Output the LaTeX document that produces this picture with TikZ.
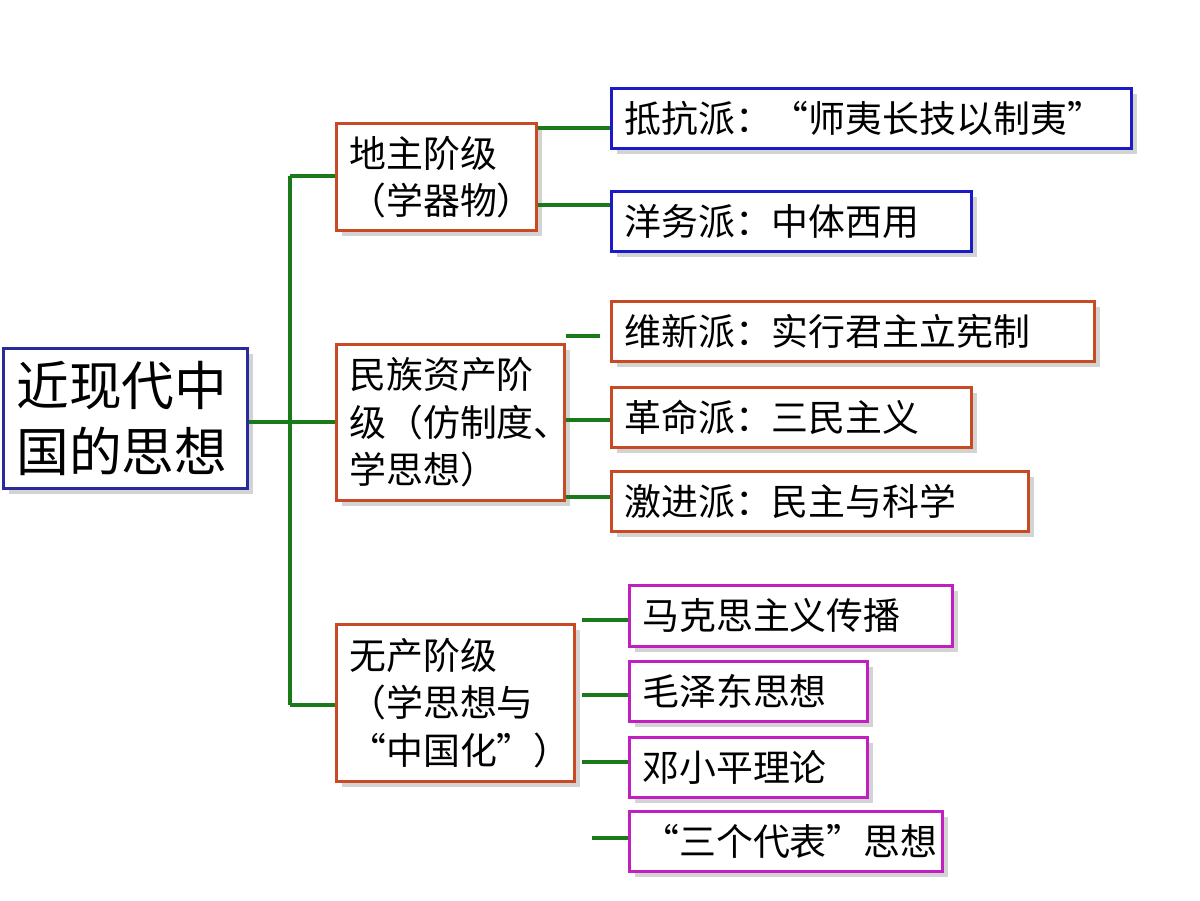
\documentclass[tikz,border=0pt]{standalone}
\usepackage{fontspec}
\setmainfont{Noto Sans CJK SC}
\usetikzlibrary{shadows}
\definecolor{bblue}{HTML}{1A1AC8}
\definecolor{rblue}{HTML}{2A2A9A}
\definecolor{bred}{HTML}{C84A24}
\definecolor{bmag}{HTML}{C020C0}
\definecolor{lgreen}{HTML}{1A7A1A}
\begin{document}
\begin{tikzpicture}[x=0.02cm,y=-0.02cm,
  box/.style={draw=#1, line width=1.6pt, fill=white, anchor=north west, align=left,
    inner xsep=0.26cm, inner ysep=0pt,
    drop shadow={shadow xshift=3pt, shadow yshift=-3pt, opacity=0.35, fill=gray},
    font=\fontsize{21}{27}\selectfont},
  ln/.style={lgreen, line width=1.8pt}]
\useasboundingbox (0,0) rectangle (1200,900);
\node[box=rblue, minimum width=4.88cm, minimum height=2.8cm, text width=4.36cm,
  font=\fontsize{30}{38}\selectfont] (root) at (2,347) {近现代中\\国的思想};
\node[box=bred, minimum width=4cm, minimum height=2.14cm, text width=3.48cm] (a) at (335,122) {地主阶级\\（学器物）};
\node[box=bred, minimum width=4.56cm, minimum height=3.12cm, text width=4.04cm] (b) at (335,343) {民族资产阶\\级（仿制度、\\学思想）};
\node[box=bred, minimum width=4.76cm, minimum height=3.14cm, text width=4.24cm] (c) at (335,623) {无产阶级\\（学思想与\\“中国化”）};
\node[box=bblue, minimum width=10.4cm, minimum height=1.2cm, text width=9.88cm] (a1) at (610,87) {抵抗派：“师夷长技以制夷”};
\node[box=bblue, minimum width=7.2cm, minimum height=1.2cm, text width=6.68cm] (a2) at (610,190) {洋务派：中体西用};
\node[box=bred, minimum width=9.66cm, minimum height=1.2cm, text width=9.14cm] (b1) at (610,300) {维新派：实行君主立宪制};
\node[box=bred, minimum width=7.2cm, minimum height=1.2cm, text width=6.68cm] (b2) at (610,386) {革命派：三民主义};
\node[box=bred, minimum width=8.34cm, minimum height=1.2cm, text width=7.82cm] (b3) at (610,470) {激进派：民主与科学};
\node[box=bmag, minimum width=6.46cm, minimum height=1.22cm, text width=5.94cm] (c1) at (628,584) {马克思主义传播};
\node[box=bmag, minimum width=4.76cm, minimum height=1.2cm, text width=4.24cm] (c2) at (628,660) {毛泽东思想};
\node[box=bmag, minimum width=4.76cm, minimum height=1.2cm, text width=4.24cm] (c3) at (628,736) {邓小平理论};
\node[box=bmag, minimum width=6.26cm, minimum height=1.2cm, text width=5.74cm] (c4) at (628,810) {“三个代表”思想};
\coordinate (t) at (290,176);
\coordinate (bt) at (290,705);
\coordinate (m) at (290,422);
\draw[ln] (root.east |- m) -- (m);
\draw[ln] (t) -- (bt);
\draw[ln] (t) -- (a.west |- t);
\draw[ln] (m) -- (b.west |- m);
\draw[ln] (bt) -- (c.west |- bt);
\draw[ln] (a.east |- 0,128) -- (a1.west |- 0,128);
\draw[ln] (a.east |- 0,205) -- (a2.west |- 0,205);
\coordinate (b1e) at (600,336);
\draw[ln] (b.east |- b1e) -- (b1e);
\draw[ln] (b.east |- 0,420) -- (b2.west |- 0,420);
\draw[ln] (b.east |- 0,497) -- (b3.west |- 0,497);
\coordinate (c1s) at (582,620);
\coordinate (c2s) at (582,695);
\coordinate (c3s) at (582,762);
\coordinate (c4s) at (592,838);
\draw[ln] (c1s) -- (c1s -| c1.west);
\draw[ln] (c2s) -- (c2s -| c2.west);
\draw[ln] (c3s) -- (c3s -| c3.west);
\draw[ln] (c4s) -- (c4s -| c4.west);
\end{tikzpicture}
\end{document}
